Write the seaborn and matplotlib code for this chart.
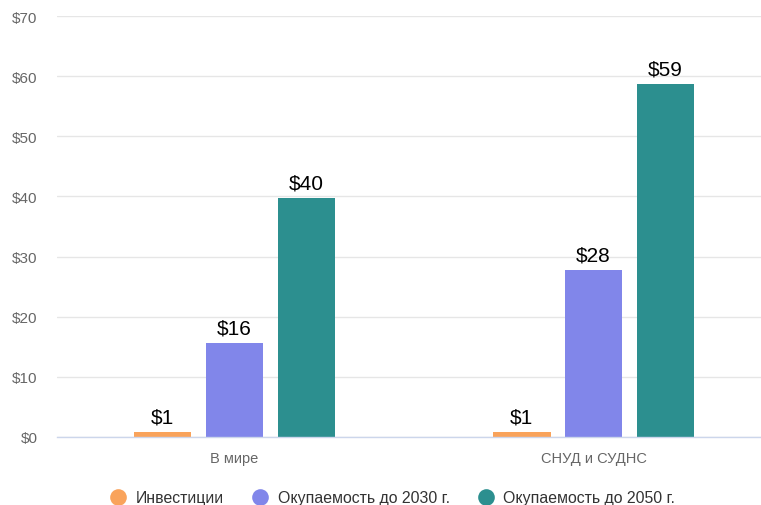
import matplotlib
matplotlib.use("Agg")
import matplotlib.pyplot as plt
import seaborn as sns
import pandas as pd
from matplotlib.lines import Line2D

categories = ["В мире", "СНУД и СУДНС"]
series = ["Инвестиции", "Окупаемость до 2030 г.", "Окупаемость до 2050 г."]
invest = [0.9, 0.9]
payback_2030 = [15.7, 27.8]
payback_2050 = [39.8, 58.7]
colors = ["#F9A35B", "#8186EA", "#2C8F8F"]
yticks = [0, 10, 20, 30, 40, 50, 60, 70]

rows = []
for s, vals in zip(series, [invest, payback_2030, payback_2050]):
    for c, v in zip(categories, vals):
        rows.append({"cat": c, "series": s, "value": v})
df = pd.DataFrame(rows)

sns.set_theme(style="white")
plt.rcParams["font.family"] = ["Liberation Sans", "DejaVu Sans"]

fig = plt.figure(figsize=(7.61, 5.06), dpi=100)
ax = fig.add_axes([57/761, (506-438)/506, (761-57)/761, (438-17)/506])

sns.barplot(data=df, x="cat", y="value", hue="series", palette=colors,
            width=0.6, gap=0.2, saturation=1, ax=ax, legend=False,
            edgecolor="none", linewidth=0)

for cont in ax.containers:
    ax.bar_label(cont, labels=[f"${v:.0f}" for v in cont.datavalues],
                 padding=4, fontsize=15, color="black")

ax.set_ylim(0, 70)
ax.set_xlim(-0.494, 1.466)
ax.set_yticks(yticks)
ax.set_yticklabels([f"${t}" for t in yticks])
ax.yaxis.grid(True, color="#e6e6e6", linewidth=1)
ax.set_axisbelow(True)
for sp in ["top", "right", "left"]:
    ax.spines[sp].set_visible(False)
ax.spines["bottom"].set_color("#ccd6eb")
ax.spines["bottom"].set_linewidth(1)
ax.tick_params(axis="y", length=0, pad=14, labelsize=11, labelcolor="#666666")
ax.tick_params(axis="x", length=0, pad=10, labelsize=10.5, labelcolor="#666666")
ax.set_xlabel("")
ax.set_ylabel("")

handles = [Line2D([], [], marker="o", linestyle="none", markersize=12,
                  markerfacecolor=c, markeredgecolor="none") for c in colors]
fig.legend(handles, series, loc="center", bbox_to_anchor=(0.511, 1 - 499/506),
           ncol=3, frameon=False, fontsize=11.4, handletextpad=0.1,
           columnspacing=1.3, labelcolor="#333333")

fig.savefig("out.png", dpi=100)
